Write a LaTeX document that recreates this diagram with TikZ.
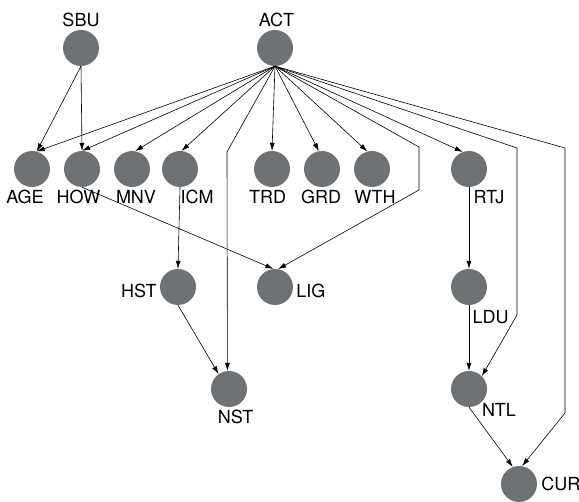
\documentclass[tikz,border=0pt]{standalone}
\usepackage{fontspec}
\setmainfont{TeX Gyre Heros}
\usetikzlibrary{arrows.meta}

\begin{document}
\begin{tikzpicture}[x=1pt,y=-1pt,
	vertex/.style={circle,fill=color1,draw=none,minimum size=36pt,inner sep=0pt},
	every label/.style={font=\fontsize{18}{20}\selectfont,inner sep=0pt,text=color3},
	label distance=3pt,
	edge/.style={draw=color3,line width=0.6pt,-{Latex[length=8pt,width=5pt]}}]
	\definecolor{color1}{HTML}{6E7275}
	\definecolor{color3}{gray}{0.}
	\useasboundingbox (0,0) rectangle (579,502);
	%% Vertices ------
	\node[vertex, label={above:SBU}] (SBU) at (81,48) {};
	\node[vertex, label={[xshift=1.5pt]above:ACT}] (ACT) at (275,48) {};
	\node[vertex, label={[xshift=-7pt]below:AGE}] (AGE) at (32,169) {};
	\node[vertex, label={[xshift=-3.5pt]below:HOW}] (HOW) at (82,169) {};
	\node[vertex, label={[xshift=4pt]below:MNV}] (MNV) at (132,169) {};
	\node[vertex, label={[xshift=17pt]below:ICM}] (ICM) at (180,169) {};
	\node[vertex, label={[xshift=-4.5pt]below:TRD}] (TRD) at (272,169) {};
	\node[vertex, label={[xshift=-1pt]below:GRD}] (GRD) at (322,169) {};
	\node[vertex, label={[xshift=3pt]below:WTH}] (WTH) at (372,169) {};
	\node[vertex, label={[xshift=20pt]below:RTJ}] (RTJ) at (469,169) {};
	\node[vertex, label={[yshift=-4pt]left:HST}] (HST) at (178,287) {};
	\node[vertex, label={[yshift=-4pt]right:LIG}] (LIG) at (275,287) {};
	\node[vertex, label={[xshift=21.5pt,yshift=-2pt]below:LDU}] (LDU) at (469,287) {};
	\node[vertex, label={[xshift=6.5pt]below:NST}] (NST) at (229,389) {};
	\node[vertex, label={[xshift=30pt,yshift=7pt]below:NTL}] (NTL) at (469,389) {};
	\node[vertex, label={[xshift=1pt]right:CUR}] (CUR) at (519,484) {};
	%% Bends ---------
	\coordinate (nstbend) at (227,152);
	\coordinate (ligbend1) at (419,147);
	\coordinate (ligbend2) at (419,190);
	\coordinate (ntlbend1) at (517,148);
	\coordinate (ntlbend2) at (517,315);
	\coordinate (curbend1) at (565,148);
	\coordinate (curbend2) at (565,413);
	%% Edges ---------
	\draw[edge] (SBU.south) -- (AGE.75);
	\draw[edge] (SBU.south) -- (HOW.north);
	\foreach \t/\a in {AGE/75, HOW/90, MNV/80, ICM/85, TRD/90, GRD/100, WTH/105, RTJ/110}
		\draw[edge] (ACT.south) -- (\t.\a);
	\draw[edge] (ACT.south) -- (nstbend) -- (NST.95);
	\draw[edge] (ACT.south) -- (ligbend1) -- (ligbend2) -- (LIG.80);
	\draw[edge] (ACT.south) -- (ntlbend1) -- (ntlbend2) -- (NTL.45);
	\draw[edge] (ACT.south) -- (curbend1) -- (curbend2) -- (CUR.80);
	\draw[edge] (HOW.south) -- (LIG.95);
	\draw[edge] (ICM.south) -- (HST.north);
	\draw[edge] (HST.south) -- (NST.125);
	\draw[edge] (RTJ.south) -- (LDU.north);
	\draw[edge] (LDU.south) -- (NTL.north);
	\draw[edge] (NTL.south) -- (CUR.110);
\end{tikzpicture}
\end{document}
